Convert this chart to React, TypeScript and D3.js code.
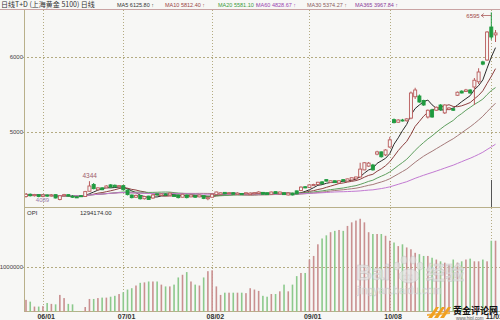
import React from "react";
import * as d3 from "d3";

// ---------- data ----------
const openPrices = [
  4140, 4170, 4150, 4165, 4140, 4160, 4145, 4165, 4100, 4150,
  4165, 4145, 4135, 4150, 4140, 4210, 4300, 4230, 4255, 4255,
  4295, 4290, 4270, 4285, 4225, 4160, 4130, 4155, 4110, 4145,
  4120, 4175, 4155, 4175, 4160, 4160, 4160, 4130, 4160, 4135,
  4150, 4135, 4150, 4110, 4130, 4165, 4170, 4195, 4180, 4190,
  4165, 4180, 4175, 4165, 4175, 4180, 4195, 4190, 4170, 4205,
  4175, 4190, 4160, 4185, 4215, 4220, 4270, 4260, 4285, 4300,
  4335, 4365, 4325, 4350, 4320, 4365, 4345, 4360, 4375, 4400,
  4495, 4545, 4560, 4705, 4735, 4695, 4800, 5165, 5130, 5160,
  5150, 5185, 5470, 5480, 5420, 5200, 5295, 5290, 5360, 5255,
  5300, 5310, 5490, 5545, 5540, 5560, 5600, 5670, 5935, 5960,
  6400, 6295,
];
const highPrices = [
  4185, 4180, 4175, 4172, 4170, 4168, 4170, 4170, 4160, 4175,
  4170, 4160, 4145, 4160, 4215, 4344, 4320, 4265, 4265, 4290,
  4305, 4300, 4290, 4290, 4235, 4165, 4165, 4160, 4150, 4150,
  4170, 4180, 4180, 4185, 4195, 4170, 4165, 4175, 4165, 4165,
  4155, 4165, 4155, 4130, 4180, 4205, 4195, 4200, 4195, 4200,
  4195, 4185, 4195, 4195, 4195, 4210, 4200, 4195, 4205, 4210,
  4205, 4195, 4190, 4190, 4220, 4275, 4280, 4300, 4310, 4335,
  4345, 4370, 4355, 4355, 4355, 4370, 4380, 4395, 4405, 4590,
  4600, 4600, 4575, 4750, 4740, 4770, 4935, 5180, 5170, 5175,
  5185, 5540, 5590, 5500, 5430, 5300, 5310, 5340, 5370, 5370,
  5330, 5320, 5540, 5555, 5575, 5570, 5720, 5850, 5950, 6345,
  6595, 6360,
];
const lowPrices = [
  4125, 4140, 4140, 4130, 4130, 4135, 4138, 4115, 4089, 4140,
  4140, 4120, 4125, 4135, 4135, 4205, 4235, 4220, 4225, 4250,
  4260, 4260, 4265, 4225, 4155, 4115, 4120, 4100, 4100, 4095,
  4110, 4155, 4150, 4150, 4155, 4135, 4115, 4125, 4115, 4130,
  4120, 4130, 4105, 4090, 4125, 4160, 4165, 4170, 4175, 4165,
  4160, 4160, 4170, 4160, 4170, 4175, 4165, 4160, 4165, 4175,
  4170, 4160, 4155, 4155, 4170, 4210, 4250, 4255, 4280, 4295,
  4305, 4340, 4320, 4320, 4315, 4340, 4340, 4355, 4370, 4395,
  4490, 4535, 4485, 4690, 4660, 4680, 4790, 5115, 5120, 5140,
  5140, 5170, 5440, 5390, 5350, 5180, 5190, 5280, 5285, 5240,
  5290, 5280, 5480, 5515, 5535, 5510, 5360, 5640, 5890, 5950,
  6230, 6200,
];
const closePrices = [
  4170, 4150, 4165, 4140, 4160, 4145, 4160, 4120, 4150, 4165,
  4145, 4130, 4130, 4140, 4205, 4280, 4245, 4255, 4230, 4280,
  4265, 4270, 4285, 4230, 4165, 4125, 4155, 4110, 4140, 4100,
  4160, 4160, 4175, 4160, 4185, 4140, 4125, 4170, 4125, 4160,
  4130, 4160, 4115, 4125, 4170, 4200, 4190, 4175, 4190, 4170,
  4185, 4165, 4190, 4185, 4190, 4200, 4170, 4165, 4200, 4180,
  4200, 4165, 4185, 4160, 4175, 4265, 4255, 4295, 4300, 4330,
  4310, 4345, 4350, 4325, 4350, 4345, 4375, 4390, 4400, 4505,
  4590, 4585, 4495, 4735, 4670, 4760, 4895, 5125, 5160, 5150,
  5175, 5520, 5560, 5400, 5360, 5290, 5200, 5330, 5295, 5360,
  5320, 5290, 5530, 5520, 5560, 5520, 5690, 5800, 5905, 6333,
  6267, 6320,
];
const openInterest = [
  260000, 220000, 110000, 110000, 120000, 190000, 170000, 160000, 370000, 300000,
  170000, 160000, 10000, 10000, 100000, 280000, 280000, 300000, 310000, 310000,
  330000, 350000, 390000, 430000, 490000, 520000, 580000, 640000, 650000, 670000,
  670000, 670000, 600000, 560000, 560000, 600000, 760000, 820000, 880000, 670000,
  600000, 580000, 760000, 900000, 920000, 560000, 370000, 420000, 420000, 420000,
  420000, 420000, 410000, 520000, 490000, 460000, 350000, 330000, 390000, 390000,
  450000, 600000, 450000, 600000, 790000, 860000, 860000, 1160000, 1240000, 1500000,
  1630000, 1700000, 1770000, 1800000, 1820000, 1800000, 1910000, 1990000, 2030000, 2070000,
  1990000, 1770000, 1730000, 1730000, 1730000, 1690000, 1580000, 1540000, 1460000, 1500000,
  1430000, 1390000, 1310000, 1280000, 1240000, 1240000, 1200000, 1160000, 1120000, 1090000,
  1050000, 1160000, 1090000, 1120000, 1160000, 1180000, 1120000, 1120000, 1160000, 1120000,
  1580000, 1580000,
];
const dateTickIndex = [4, 23, 44, 67, 86, 110];
const dateTickLabels = ["06/01", "07/01", "08/02", "09/01", "10/08", "11/01"];
const priceTicks = [5000, 6000];
const oiTicks = [1000000];
const maPeriods = [5, 10, 20, 30, 60];
const headerNames = ["MA5", "MA10", "MA20", "MA60", "MA30", "MA365"];
const headerValues = ["6125.80", "5812.40", "5581.10", "4828.67", "5374.27", "3967.84"];
const titleText = "日线T+D (上海黄金 5100) 日线";
const oiLabel = "OPI";
const oiValue = "1294174.00";
const markHigh = 6595;
const markLow = 4089;
const markLocal = 4344;

// ---------- styles ----------
const BG = "#f7f7f5";
const AXIS = "#b9b08a";
const GRID = "#b4ab82";
const UP = "#b85a5a";
const DOWN = "#1f9a3f";
const VOL_UP = "#c99090";
const VOL_DOWN = "#8cc98c";
const FONT = "'Liberation Sans', Arial, sans-serif";
const maColors: Record<number, string> = {
  5: "#2a2a2a",
  10: "#8c3f3f",
  20: "#5f9f5f",
  30: "#a57a7a",
  60: "#c27ad2",
};
const headerColors = ["#333333", "#9a4444", "#3c9a3c", "#9a44b0", "#8a5a5a", "#8a3a9a"];
const headerX = [117, 165, 218, 256, 307, 355];

export default function App() {
  const W = 500;
  const H = 320;
  const N = closePrices.length;
  const x = d3.scaleLinear().domain([0, N - 1]).range([26, 26 + 4.23 * (N - 1)]);
  const yP = d3.scaleLinear().domain([4000, 6000]).range([207, 57]);
  const yV = d3.scaleLinear().domain([0, 1000000]).range([311.5, 266.7]);

  const ma = (p: number) =>
    closePrices.map((_, i) => {
      const s = Math.max(0, i - p + 1);
      return d3.mean(closePrices.slice(s, i + 1)) as number;
    });
  const line = d3
    .line<number>()
    .x((_, i) => x(i))
    .y((d) => yP(d));

  const hiIdx = highPrices.indexOf(markHigh);
  const loIdx = lowPrices.indexOf(markLow);
  const locIdx = highPrices.indexOf(markLocal);

  return (
    <svg
      width={W}
      height={H}
      style={{ position: "absolute", left: 0, top: 0, display: "block" }}
      fontFamily={FONT}
    >
      <defs>
        <clipPath id="pclip">
          <rect x={25} y={10} width={475} height={197} />
        </clipPath>
      </defs>
      <rect x={0} y={0} width={W} height={H} fill={BG} />

      {/* header */}
      <text x={1} y={7} fontSize={7} fill="#333" fontFamily="'Noto Sans CJK SC', sans-serif">
        {titleText}
      </text>
      {headerNames.map((n, k) => (
        <text key={n} x={headerX[k]} y={7} fontSize={5.5} fill={headerColors[k]}>
          {`${n} ${headerValues[k]} ↑`}
        </text>
      ))}
      <line x1={0} x2={W} y1={9.5} y2={9.5} stroke="#c9a3a3" strokeWidth={1} />

      {/* grid */}
      {dateTickIndex.map((t, k) => (
        <line
          key={"vg" + k}
          x1={Math.round(x(t)) + 0.5}
          x2={Math.round(x(t)) + 0.5}
          y1={10}
          y2={311}
          stroke={GRID}
          strokeWidth={1}
          strokeDasharray="1,2"
        />
      ))}
      {priceTicks.map((p) => (
        <g key={"pt" + p}>
          <line
            x1={23}
            x2={W}
            y1={Math.round(yP(p)) + 0.5}
            y2={Math.round(yP(p)) + 0.5}
            stroke={GRID}
            strokeDasharray="2,2"
          />
          <text x={23} y={yP(p) + 2} fontSize={6} fill="#444" textAnchor="end">
            {p}
          </text>
        </g>
      ))}
      {oiTicks.map((v) => (
        <g key={"vt" + v}>
          <line
            x1={23}
            x2={W}
            y1={Math.round(yV(v)) + 0.5}
            y2={Math.round(yV(v)) + 0.5}
            stroke={GRID}
            strokeDasharray="2,2"
          />
          <text x={23} y={yV(v) + 2} fontSize={6} fill="#444" textAnchor="end">
            {v}
          </text>
        </g>
      ))}

      {/* axes */}
      <line x1={24.5} x2={24.5} y1={10} y2={312} stroke={AXIS} strokeWidth={1} />
      <line x1={24} x2={W} y1={207.5} y2={207.5} stroke={AXIS} strokeWidth={1} />
      <line x1={24} x2={W} y1={311.5} y2={311.5} stroke={AXIS} strokeWidth={1} />

      {/* price panel */}
      <g clipPath="url(#pclip)">
        {maPeriods.map((p) => (
          <path key={"ma" + p} d={line(ma(p)) || ""} fill="none" stroke={maColors[p]} strokeWidth={1} />
        ))}
        {closePrices.map((c, i) => {
          const o = openPrices[i];
          const up = c >= o;
          const cx = x(i);
          const top = yP(Math.max(o, c));
          const bot = yP(Math.min(o, c));
          const h = Math.max(1, bot - top);
          const col = up ? UP : DOWN;
          return (
            <g key={"c" + i}>
              <line x1={cx} x2={cx} y1={yP(highPrices[i])} y2={top} stroke={col} strokeWidth={1} />
              <line x1={cx} x2={cx} y1={top + h} y2={yP(lowPrices[i])} stroke={col} strokeWidth={1} />
              <rect
                x={cx - 1.5}
                y={top}
                width={3}
                height={h}
                fill={up ? BG : DOWN}
                stroke={col}
                strokeWidth={0.9}
              />
            </g>
          );
        })}
        <line x1={491.5} x2={491.5} y1={180} y2={207} stroke="#555" strokeWidth={1} />
      </g>

      {/* extreme labels */}
      <text x={x(hiIdx) - 25} y={18} fontSize={6} fill="#a04848">
        {markHigh}
      </text>
      <path
        d={`M${x(hiIdx) - 10},${15.5} l2.5,-2 M${x(hiIdx) - 10},${15.5} l2.5,2 M${x(hiIdx) - 10},${15.5} H${x(hiIdx)}`}
        stroke="#a04848"
        strokeWidth={0.7}
        fill="none"
      />
      <text x={x(locIdx) - 7} y={178} fontSize={6.5} fill="#a05a6a">
        {markLocal}
      </text>
      <text x={x(loIdx) - 24} y={202} fontSize={6} fill="#9a7aa8">
        {markLow}
      </text>

      {/* open interest panel */}
      <text x={27} y={215} fontSize={6} fill="#333">
        {oiLabel}
      </text>
      <text x={80} y={215} fontSize={6} fill="#333">
        {oiValue}
      </text>
      {openInterest.map((v, i) => (
        <rect
          key={"v" + i}
          x={x(i) - 0.8}
          y={yV(v)}
          width={1.6}
          height={yV(0) - yV(v)}
          fill={closePrices[i] >= openPrices[i] ? VOL_UP : VOL_DOWN}
        />
      ))}

      {/* date labels */}
      {dateTickIndex.map((t, k) => (
        <text key={"dl" + k} x={x(t) - 5.5} y={319} fontSize={7} fontWeight="bold" fill="#333">
          {dateTickLabels[k]}
        </text>
      ))}

      {/* watermark */}
      <g opacity={0.7}>
        <text x={356} y={280} fontSize={22} fontWeight="bold" fill="#e2e2e2" stroke="#bdbdbd" strokeWidth={0.6}>
          Bai
        </text>
        <g fill="#e2e2e2" stroke="#bdbdbd" strokeWidth={0.6}>
          <ellipse cx={397} cy={266} rx={3} ry={4} />
          <ellipse cx={404} cy={260} rx={3} ry={4} />
          <ellipse cx={413} cy={260} rx={3} ry={4} />
          <ellipse cx={420} cy={266} rx={3} ry={4} />
          <ellipse cx={409} cy={276} rx={10} ry={7} />
        </g>
        <text x={402} y={280} fontSize={9} fontWeight="bold" fill="#f5f5f5" stroke="#bdbdbd" strokeWidth={0.4}>
          du
        </text>
        <text
          x={426}
          y={280}
          fontSize={19}
          fontWeight="bold"
          fill="#e2e2e2"
          stroke="#bdbdbd"
          strokeWidth={0.6}
          fontFamily="'Noto Sans CJK SC', sans-serif"
        >
          经验
        </text>
        <text x={357} y={294} fontSize={10.5} fill="#d8d8d8" stroke="#c4c4c4" strokeWidth={0.3}>
          jingyan.baidu.com
        </text>
      </g>

      {/* logo */}
      <g fill="#f0a020">
        <path d="M428,318 L436,307 L439,307 L432,318 Z" />
        <path d="M434,318 L442,307 L445,307 L438,318 Z" />
        <path d="M440,318 L448,307 L451,307 L444,318 Z" />
        <path d="M427,314 L450,312 L450,314 L427,316 Z" opacity={0.8} />
      </g>
      <text
        x={453}
        y={314}
        fontSize={9}
        fontWeight="bold"
        fill="#111"
        fontFamily="'Noto Sans CJK SC', sans-serif"
      >
        黄金评论网
      </text>
      <text x={456} y={319.5} fontSize={4.5} fill="#555">
        www.hjpl.com
      </text>
    </svg>
  );
}
